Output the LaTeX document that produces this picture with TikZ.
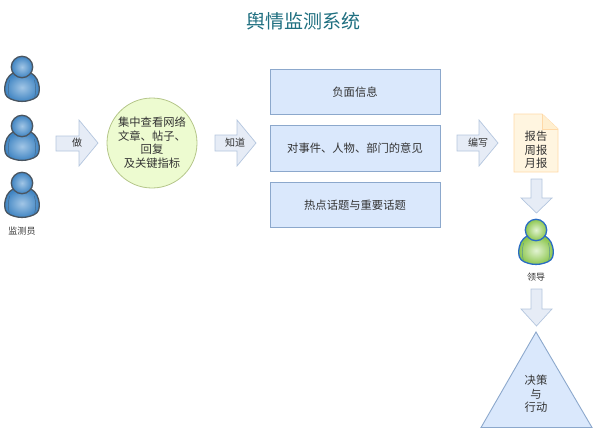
\documentclass[tikz,border=0pt]{standalone}
\usepackage{fontspec}
\setmainfont{Noto Sans CJK SC}
\definecolor{titlec}{HTML}{1F6F80}
\definecolor{textc}{HTML}{333333}
\definecolor{boxf}{HTML}{DAE8FC}
\definecolor{boxd}{HTML}{8CA8CC}
\definecolor{arrf}{HTML}{E6ECF6}
\definecolor{arrd}{HTML}{B4C6DE}
\definecolor{blin}{HTML}{A2C6E6}
\definecolor{blout}{HTML}{3F84C2}
\definecolor{bledge}{HTML}{4A5560}
\definecolor{grin}{HTML}{E2F3D2}
\definecolor{grout}{HTML}{8CC64E}
\definecolor{gredge}{HTML}{2A6CC4}
\definecolor{circd}{HTML}{B5C68A}
\definecolor{circf}{HTML}{EDFBD0}
\definecolor{docd}{HTML}{FFD9A8}
\definecolor{docf}{HTML}{FFF5E0}
\definecolor{docg}{HTML}{FFEFD0}
\tikzset{
  px/.style={x=1pt,y=-1pt},
  titletext/.style={text=titlec,font=\fontsize{19}{21}\selectfont},
  bodytext/.style={text=textc,font=\fontsize{11.3}{13.5}\selectfont,align=center},
  smalltext/.style={text=textc,font=\fontsize{9}{11}\selectfont,align=center},
  arrowtext/.style={text=textc,font=\fontsize{10}{12}\selectfont,align=center},
  infobox/.style={draw=boxd,fill=boxf,line width=0.9pt,minimum width=170pt,minimum height=45.5pt,inner sep=0pt,bodytext},
  bluearrow/.style={draw=arrd,fill=arrf,line width=0.7pt,line join=miter},
  pics/person/.style n args={3}{code={
    \path[draw=#3,line width=1.3pt,inner color=#1,outer color=#2]
      (-9,6) .. controls (-14,9) and (-17.3,14) .. (-17.3,23)
      .. controls (-17.3,29) and (-14,31.5) .. (-8,33.2)
      .. controls (-3,34.8) and (3,34.8) .. (8,33.2)
      .. controls (14,31.5) and (17.3,29) .. (17.3,23)
      .. controls (17.3,14) and (14,9) .. (9,6) -- cycle;
    \draw[#3!55!#2,line width=0.5pt] (-12.5,13) .. controls (-14,19) and (-14,26) .. (-12.5,31);
    \draw[#3!55!#2,line width=0.5pt] (12.5,13) .. controls (14,19) and (14,26) .. (12.5,31);
    \path[draw=#3,line width=1.3pt,inner color=#1,outer color=#2] (0,0) circle (10.7);
  }}
}
\begin{document}
\begin{tikzpicture}[px]
\useasboundingbox (0,0) rectangle (593,428);
\node[titletext] (title) at (303,21) {舆情监测系统};

\pic (p1) at (22,67) {person={blin}{blout}{bledge}};
\pic (p2) at (22,126) {person={blin}{blout}{bledge}};
\pic (p3) at (22,183) {person={blin}{blout}{bledge}};
\node[smalltext] (jc) at (22,231) {监测员};

% block arrows
\draw[bluearrow] (56,136) -- (79,136) -- (79,120) -- (98,143) -- (79,166) -- (79,151) -- (56,151) -- cycle;
\node[arrowtext] (a1) at (77,143) {做};
\draw[bluearrow] (215,135) -- (237,135) -- (237,120) -- (256,143) -- (237,166) -- (237,151) -- (215,151) -- cycle;
\node[arrowtext] (a2) at (235,143) {知道};
\draw[bluearrow] (457,135) -- (479,135) -- (479,120) -- (498,143) -- (479,166) -- (479,151) -- (457,151) -- cycle;
\node[arrowtext] (a3) at (478,143) {编写};
\draw[bluearrow] (531,179) -- (542,179) -- (542,198) -- (552,198) -- (536.5,213) -- (521,198) -- (531,198) -- cycle;
\draw[bluearrow] (531,289) -- (542,289) -- (542,309) -- (552,309) -- (536.5,326) -- (521,309) -- (531,309) -- cycle;

\node[circle,draw=circd,fill=circf,line width=0.8pt,minimum size=90pt,inner sep=0pt] (c) at (152,143) {};
\node[bodytext] (ct) at (152,142.5) {集中查看网络\\文章、帖子、\\回复\\及关键指标};

\node[infobox] (b1) at (355,92) {负面信息};
\node[infobox] (b2) at (355,148.5) {对事件、人物、部门的意见};
\node[infobox] (b3) at (355,205) {热点话题与重要话题};

% document
\draw[draw=docd,fill=docf,line width=0.9pt] (514,114) -- (542,114) -- (558,129) -- (558,172) -- (514,172) -- cycle;
\draw[draw=docd,fill=docg,line width=0.9pt] (542,114) -- (542,129) -- (558,129);
\node[bodytext] (doc) at (536,150) {报告\\周报\\月报};

\pic (lead) at (536,230) {person={grin}{grout}{gredge}};
\node[smalltext] (ld) at (536,277) {领导};

\draw[draw=boxd,fill=boxf,line width=0.9pt] (536,332) -- (592,427.5) -- (481,427.5) -- cycle;
\node[bodytext] (tri) at (536,394) {决策\\与\\行动};
\end{tikzpicture}
\end{document}
